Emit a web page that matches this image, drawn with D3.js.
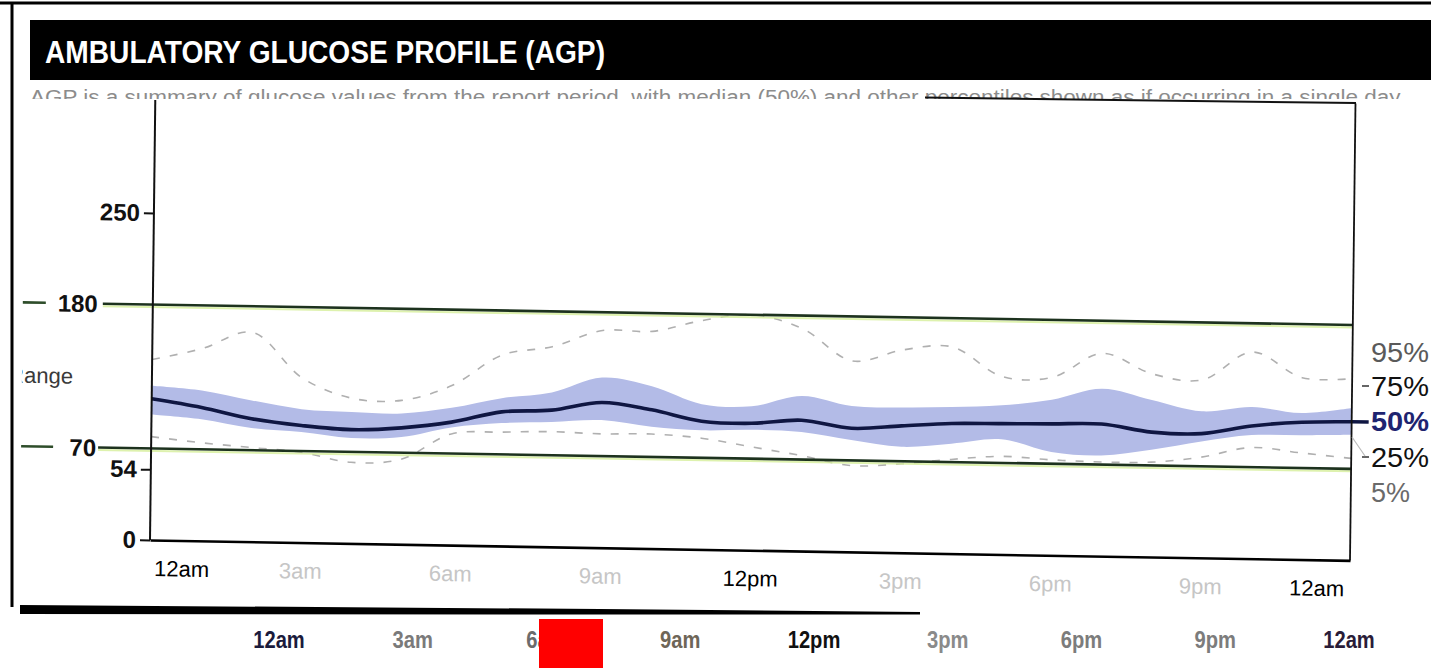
<!DOCTYPE html>
<html>
<head>
<meta charset="utf-8">
<script src="https://cdn.jsdelivr.net/npm/d3@7"></script>
<style>
  html, body { margin: 0; padding: 0; background: #fff; }
  svg { display: block; }
</style>
</head>
<body>
<script>
// Hour of day (0 = midnight, 24 = next midnight)
const hours = [0,1,2,3,4,5,6,7,8,9,10,11,12,13,14,15,16,17,18,19,20,21,22,23,24];

// Glucose percentiles (mg/dL) for each hour
const p95 = [138,147,160,126,111,110,122,146,153,166,166,175,180,170,146,155,158,136,136,155,140,136,158,139,139];
const p75 = [118,115,108,102,100.5,100,105,113,118,130,124,111,110,118.5,111.5,111,112,114,119,128,120,112,116,112,116.5];
const p50 = [108,102,94,89.5,87,89,94,102.5,104.5,111,106,98,97,100,94.5,97,99.5,100,100.5,101,95.5,95,101.5,105,106];
const p25 = [96,93,87,84.5,80.5,82,90,94,95.5,97.5,93,91,92,91,85.5,81,84,88,79,77,82,89,94.5,95,96];
const p5  = [79,75,72,69,62,65,85,87,88,87,87.5,85,79,73,66,68,72,75,73,72,72.5,77,85,81.5,78];

// Axis labels
const yTickValues = [250, 54, 0];
const targetRange = [70, 180];
const xTickHours = [0,3,6,9,12,15,18,21,24];
const xTickLabels = ["12am","3am","6am","9am","12pm","3pm","6pm","9pm","12am"];
const boldHours = [0,12,24];
const percentileLabels = ["95%","75%","50%","25%","5%"];

const W = 1431, H = 668;
const sans = "'Liberation Sans', Arial, Helvetica, sans-serif";

const svg = d3.select("body").append("svg")
  .attr("width", W).attr("height", H)
  .attr("viewBox", `0 0 ${W} ${H}`);

svg.append("rect").attr("width", W).attr("height", H).attr("fill", "#fff");

// ---- page frame ----
const frame = svg.append("g").attr("stroke", "#000").attr("stroke-width", 3);
frame.append("line").attr("x1", 0).attr("x2", W).attr("y1", 3).attr("y2", 3);
frame.append("line").attr("x1", 12).attr("x2", 12).attr("y1", 3).attr("y2", 607);

// ---- header bar ----
svg.append("rect").attr("x", 30).attr("y", 20).attr("width", W - 30).attr("height", 60).attr("fill", "#000");
svg.append("text")
  .attr("x", 45).attr("y", 63)
  .attr("fill", "#fff")
  .attr("font-family", sans)
  .attr("font-weight", "bold")
  .attr("font-size", 31)
  .attr("textLength", 560)
  .attr("lengthAdjust", "spacingAndGlyphs")
  .text("AMBULATORY GLUCOSE PROFILE (AGP)");

// subtitle, partly hidden under the chart panel
svg.append("clipPath").attr("id", "subClip")
  .append("rect").attr("x", 0).attr("y", 0).attr("width", W).attr("height", 99);
svg.append("text")
  .attr("clip-path", "url(#subClip)")
  .attr("x", 30).attr("y", 104)
  .attr("fill", "#8c8c8c")
  .attr("font-family", sans)
  .attr("font-size", 20)
  .attr("textLength", 1375)
  .attr("lengthAdjust", "spacingAndGlyphs")
  .text("AGP is a summary of glucose values from the report period, with median (50%) and other percentiles shown as if occurring in a single day.");

// ---- chart panel (slightly skewed, as printed) ----
const x = d3.scaleLinear().domain([0, 24]).range([150, 1350]);
const y = d3.scaleLinear().domain([0, 250]).range([540, 213]);

const chart = svg.append("g")
  .attr("transform", "translate(150,540) matrix(1,0.017,-0.012,1,0,0) translate(-150,-540)");

// "Target Range" label, cut at the page edge
svg.append("clipPath").attr("id", "leftClip")
  .append("rect").attr("x", 20).attr("y", 0).attr("width", 200).attr("height", H);
chart.append("text")
  .attr("clip-path", "url(#leftClip)")
  .attr("x", 71).attr("y", 385)
  .attr("text-anchor", "end")
  .attr("fill", "#3a3a3a")
  .attr("font-family", sans)
  .attr("font-size", 22)
  .text("Target Range");

// interquartile band
const band = d3.area()
  .x((d, i) => x(hours[i]))
  .y0((d, i) => y(p25[i]))
  .y1((d, i) => y(p75[i]))
  .curve(d3.curveCatmullRom.alpha(0.5));
chart.append("path")
  .datum(hours)
  .attr("d", band)
  .attr("fill", "#b3bbe7");

// 5th / 95th percentile dashed lines
const pLine = d3.line()
  .x((d, i) => x(hours[i]))
  .y(d => y(d))
  .curve(d3.curveCatmullRom.alpha(0.5));
[p95, p5].forEach(series => {
  chart.append("path")
    .datum(series)
    .attr("d", pLine)
    .attr("fill", "none")
    .attr("stroke", "#b0b0b0")
    .attr("stroke-width", 1.6)
    .attr("stroke-dasharray", "8,10");
});

// target range lines
targetRange.forEach(v => {
  const yy = y(v);
  const start = v === 180 ? 100 : 97;
  chart.append("line")
    .attr("x1", start).attr("x2", x(24))
    .attr("y1", yy + 2.5).attr("y2", yy + 2.5)
    .attr("stroke", "#d6ef9a").attr("stroke-width", 2).attr("opacity", 0.8);
  chart.append("line")
    .attr("x1", start).attr("x2", x(24))
    .attr("y1", yy).attr("y2", yy)
    .attr("stroke", "#1d321e").attr("stroke-width", 2.6);
  chart.append("line")
    .attr("x1", 20).attr("x2", v === 180 ? 43 : 52)
    .attr("y1", yy).attr("y2", yy)
    .attr("stroke", "#2e4d2a").attr("stroke-width", 2.6);
  chart.append("text")
    .attr("x", 95).attr("y", yy)
    .attr("dy", "0.36em")
    .attr("text-anchor", "end")
    .attr("font-family", sans)
    .attr("font-weight", "bold")
    .attr("font-size", 24)
    .attr("fill", "#111")
    .text(v);
});

// median line, continued out to its label
chart.append("path")
  .datum(p50)
  .attr("d", pLine)
  .attr("fill", "none")
  .attr("stroke", "#0f1642")
  .attr("stroke-width", 3.6);
chart.append("line")
  .attr("x1", x(24)).attr("x2", x(24) + 17)
  .attr("y1", y(p50[p50.length - 1])).attr("y2", y(p50[p50.length - 1]))
  .attr("stroke", "#0f1642").attr("stroke-width", 3.6);

// left axis
const yAxis = chart.append("g")
  .attr("transform", `translate(${x(0)},0)`)
  .call(d3.axisLeft(y).tickValues(yTickValues).tickSize(10).tickSizeOuter(0).tickPadding(4));
yAxis.select(".domain").remove();
yAxis.selectAll(".tick line").attr("stroke", "#111").attr("stroke-width", 2);
yAxis.selectAll(".tick text")
  .attr("font-family", sans)
  .attr("font-weight", "bold")
  .attr("font-size", 24)
  .attr("fill", "#111");
chart.append("line")
  .attr("x1", x(0)).attr("x2", x(0))
  .attr("y1", 100).attr("y2", y(0))
  .attr("stroke", "#111").attr("stroke-width", 2);

// right edge of the panel
chart.append("line")
  .attr("x1", x(24)).attr("x2", x(24))
  .attr("y1", 83).attr("y2", y(0))
  .attr("stroke", "#111").attr("stroke-width", 1.8);

// bottom axis
const xAxis = chart.append("g")
  .attr("transform", `translate(0,${y(0)})`)
  .call(d3.axisBottom(x).tickValues(xTickHours).tickSize(0).tickSizeOuter(0)
    .tickFormat((d, i) => xTickLabels[i]));
xAxis.select(".domain").attr("stroke", "#000").attr("stroke-width", 2.6);
xAxis.selectAll(".tick text")
  .attr("y", 36).attr("dy", 0)
  .attr("font-family", sans)
  .attr("font-size", 22)
  .attr("fill", d => boldHours.includes(d) ? "#000" : "#c6c6c6")
  .attr("text-anchor", d => d === 0 ? "start" : d === 24 ? "end" : "middle")
  .attr("dx", d => d === 0 ? 4 : d === 24 ? -6 : 0);

// top edge of the panel
svg.append("line")
  .attr("x1", 925).attr("y1", 97.5).attr("x2", 1356).attr("y2", 103)
  .attr("stroke", "#111").attr("stroke-width", 2);

// ---- percentile labels on the right ----
const pl = svg.append("g").attr("font-family", sans).attr("font-size", 27);
const plY = [362, 396, 431, 467, 502];
const plCol = ["#5a5a5a", "#111", "#1e2470", "#111", "#6a6a6a"];
percentileLabels.forEach((t, i) => {
  pl.append("text")
    .attr("x", 1371).attr("y", plY[i])
    .attr("fill", plCol[i])
    .attr("font-weight", t === "50%" ? "bold" : "normal")
    .attr("textLength", t === "5%" ? 39 : 58)
    .attr("lengthAdjust", "spacingAndGlyphs")
    .text(t);
});
[396, 467].forEach(yy => {
  pl.append("line")
    .attr("x1", 1362).attr("x2", 1369)
    .attr("y1", yy - 10).attr("y2", yy - 10)
    .attr("stroke", "#333").attr("stroke-width", 1.5);
});
pl.append("line")
  .attr("x1", 1352).attr("y1", 437).attr("x2", 1365).attr("y2", 456)
  .attr("stroke", "#bbb").attr("stroke-width", 1.2);

// ---- lower strip and repeated time row ----
svg.append("path")
  .attr("d", "M20,605 L600,609 L920,612 L920,614.5 L600,614.5 L20,614 Z")
  .attr("fill", "#000");

const xRow = d3.scaleLinear().domain([0, 24]).range([279, 1349]);
const rowColors = ["#1b1b3c","#7a7a7a","#6c6c6c","#6e6658","#111111","#8a8a8a","#7c7c7c","#7c7c7c","#2a1c38"];
svg.append("g")
  .selectAll("g")
  .data(xTickHours)
  .join("g")
  .attr("transform", d => `translate(${xRow(d)},648) scale(0.84,1)`)
  .append("text")
  .attr("text-anchor", "middle")
  .attr("font-family", sans)
  .attr("font-weight", "bold")
  .attr("font-size", 24)
  .attr("fill", (d, i) => rowColors[i])
  .text((d, i) => xTickLabels[i]);

// redaction block
svg.append("rect")
  .attr("x", 539).attr("y", 619).attr("width", 64).attr("height", 49)
  .attr("fill", "#ff0000");
</script>
</body>
</html>
